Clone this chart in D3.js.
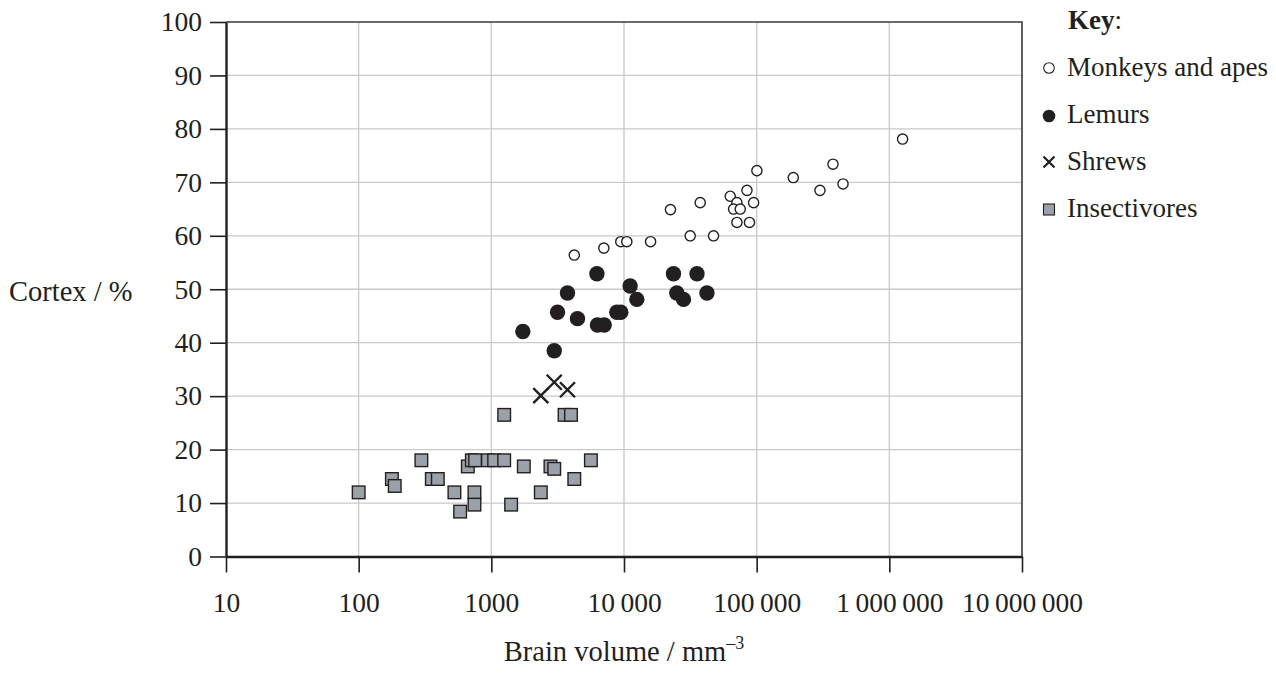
<!DOCTYPE html>
<html>
<head>
<meta charset="utf-8">
<script src="https://cdn.jsdelivr.net/npm/d3@7"></script>
<style>
  html, body { margin: 0; padding: 0; background: #fff; }
  svg { display: block; font-family: "Liberation Serif", "Times New Roman", serif; }
</style>
</head>
<body>
<svg id="chart" width="1276" height="673"></svg>
<script>
// ---- data (brain volume mm^3, cortex %) ----
const monkeysX = [4220, 7050, 9460, 10500, 15860, 22400, 31550, 37550, 47300, 63200, 71000, 67000, 75200, 84500, 94800, 71000, 88300, 100400, 188800, 300000, 376000, 447500, 1259000];
const monkeysY = [56.4, 57.7, 58.9, 58.9, 58.9, 64.9, 60.0, 66.2, 60.0, 67.4, 66.2, 65.0, 65.0, 68.5, 66.2, 62.5, 62.5, 72.2, 70.9, 68.5, 73.4, 69.7, 78.1];

const lemursX = [1728, 2980, 3155, 3750, 4460, 6250, 6310, 7090, 8830, 9460, 11120, 12490, 23600, 25000, 28100, 35500, 42200];
const lemursY = [42.1, 38.5, 45.7, 49.3, 44.5, 52.9, 43.3, 43.3, 45.7, 45.7, 50.6, 48.1, 52.9, 49.3, 48.1, 52.9, 49.3];

const shrewsX = [2360, 2980, 3750];
const shrewsY = [30.1, 32.6, 31.2];

const insectX = [100, 178, 187, 297, 356, 395, 527, 582, 665, 713, 755, 746, 746, 942, 1050, 1250, 1250, 1410, 1757, 2360, 2790, 2980, 3565, 3985, 4220, 5630];
const insectY = [12.0, 14.5, 13.2, 18.0, 14.5, 14.5, 12.0, 8.4, 16.85, 18.0, 18.0, 12.0, 9.7, 18.0, 18.0, 18.0, 26.5, 9.7, 16.85, 12.0, 16.85, 16.4, 26.5, 26.5, 14.5, 18.0];

const xTicks = [10, 100, 1000, 10000, 100000, 1000000, 10000000];
const yTicks = [0, 10, 20, 30, 40, 50, 60, 70, 80, 90, 100];

const legendLabels = ["Monkeys and apes", "Lemurs", "Shrews", "Insectivores"];

// ---- layout ----
const svg = d3.select("#chart");
const pL = 226, pR = 1022, pT = 22, pB = 556.5;
const x = d3.scaleLog().domain([10, 1e7]).range([pL, pR]);
const y = d3.scaleLinear().domain([0, 100]).range([pB, pT]);
const ink = "#231f20";
const grid = "#c9c9cb";
const sqFill = "#9aa1a8";
const fmt = d => d < 10000 ? String(d) : d3.format(",")(d).replace(/,/g, "\u2009");

// gridlines
svg.append("g").selectAll("line").data(xTicks.slice(1, -1)).join("line")
  .attr("x1", d => x(d)).attr("x2", d => x(d)).attr("y1", pT).attr("y2", pB)
  .attr("stroke", grid).attr("stroke-width", 1.3);
svg.append("g").selectAll("line").data(yTicks.slice(1, -1)).join("line")
  .attr("x1", pL).attr("x2", pR).attr("y1", d => y(d)).attr("y2", d => y(d))
  .attr("stroke", grid).attr("stroke-width", 1.3);

// frame top/right
svg.append("path")
  .attr("d", `M${pL},${pT}H${pR}V${pB}`)
  .attr("fill", "none").attr("stroke", "#3a3a3a").attr("stroke-width", 1.6);

// axes
const yAxis = svg.append("g").attr("transform", `translate(${pL},0)`)
  .call(d3.axisLeft(y).tickValues(yTicks).tickSizeInner(16).tickSizeOuter(0).tickPadding(8).tickFormat(d => d));
const xAxis = svg.append("g").attr("transform", `translate(0,${pB})`)
  .call(d3.axisBottom(x).tickValues(xTicks).tickSizeInner(16).tickSizeOuter(0).tickPadding(20).tickFormat(fmt));
[yAxis, xAxis].forEach(g => {
  g.select(".domain").attr("stroke", ink).attr("stroke-width", 2.4);
  g.selectAll(".tick line").attr("stroke", ink).attr("stroke-width", 1.6);
  g.selectAll(".tick text").attr("fill", ink).style("font-size", "27.5px")
    .style("font-family", '"Liberation Serif", "Times New Roman", serif');
});

// axis titles
svg.append("text").attr("x", 9).attr("y", 301)
  .attr("fill", ink).style("font-size", "28.5px").text("Cortex / %");
const xt = svg.append("text").attr("x", (pL + pR) / 2).attr("y", 661)
  .attr("text-anchor", "middle").attr("fill", ink).style("font-size", "28.5px");
xt.append("tspan").text("Brain volume / mm");
xt.append("tspan").attr("dy", -12).style("font-size", "18px").text("\u20133");

// markers
const marks = svg.append("g");
const insect = insectX.map((v, i) => [v, insectY[i]]);
marks.selectAll("rect.ins").data(insect).join("rect").attr("class", "ins")
  .attr("x", d => x(d[0]) - 6.3).attr("y", d => y(d[1]) - 6.3)
  .attr("width", 12.6).attr("height", 12.6)
  .attr("fill", sqFill).attr("stroke", ink).attr("stroke-width", 1.4);

const shrews = shrewsX.map((v, i) => [v, shrewsY[i]]);
marks.selectAll("path.shr").data(shrews).join("path").attr("class", "shr")
  .attr("d", d => { const cx = x(d[0]), cy = y(d[1]), s = 7.5;
    return `M${cx - s},${cy - s}L${cx + s},${cy + s}M${cx - s},${cy + s}L${cx + s},${cy - s}`; })
  .attr("stroke", ink).attr("stroke-width", 2.4).attr("fill", "none");

const lemurs = lemursX.map((v, i) => [v, lemursY[i]]);
marks.selectAll("circle.lem").data(lemurs).join("circle").attr("class", "lem")
  .attr("cx", d => x(d[0])).attr("cy", d => y(d[1])).attr("r", 7.7)
  .attr("fill", ink);

const monkeys = monkeysX.map((v, i) => [v, monkeysY[i]]);
marks.selectAll("circle.mon").data(monkeys).join("circle").attr("class", "mon")
  .attr("cx", d => x(d[0])).attr("cy", d => y(d[1])).attr("r", 5.1)
  .attr("fill", "#fff").attr("stroke", ink).attr("stroke-width", 1.4);

// legend
const lg = svg.append("g");
const keyT = lg.append("text").attr("x", 1068).attr("y", 29).attr("fill", ink).style("font-size", "27px");
keyT.append("tspan").attr("font-weight", "bold").text("Key");
keyT.append("tspan").text(":");
const lx = 1049, base = [76, 123, 170, 216.5];
legendLabels.forEach((lab, i) => {
  lg.append("text").attr("x", 1067).attr("y", base[i]).attr("fill", ink)
    .style("font-size", "27px").text(lab);
});
const cyL = base.map(b => b - 8);
lg.append("circle").attr("cx", lx).attr("cy", cyL[0]).attr("r", 5.3)
  .attr("fill", "#fff").attr("stroke", ink).attr("stroke-width", 1.1);
lg.append("circle").attr("cx", lx).attr("cy", cyL[1] + 1).attr("r", 6.3).attr("fill", ink);
lg.append("path").attr("d", `M${lx - 5.5},${cyL[2] - 5.5}L${lx + 5.5},${cyL[2] + 5.5}M${lx - 5.5},${cyL[2] + 5.5}L${lx + 5.5},${cyL[2] - 5.5}`)
  .attr("stroke", ink).attr("stroke-width", 2.2);
lg.append("rect").attr("x", lx - 5.5).attr("y", cyL[3] - 5.5 + 1).attr("width", 11).attr("height", 11)
  .attr("fill", sqFill).attr("stroke", ink).attr("stroke-width", 1.1);
</script>
</body>
</html>
